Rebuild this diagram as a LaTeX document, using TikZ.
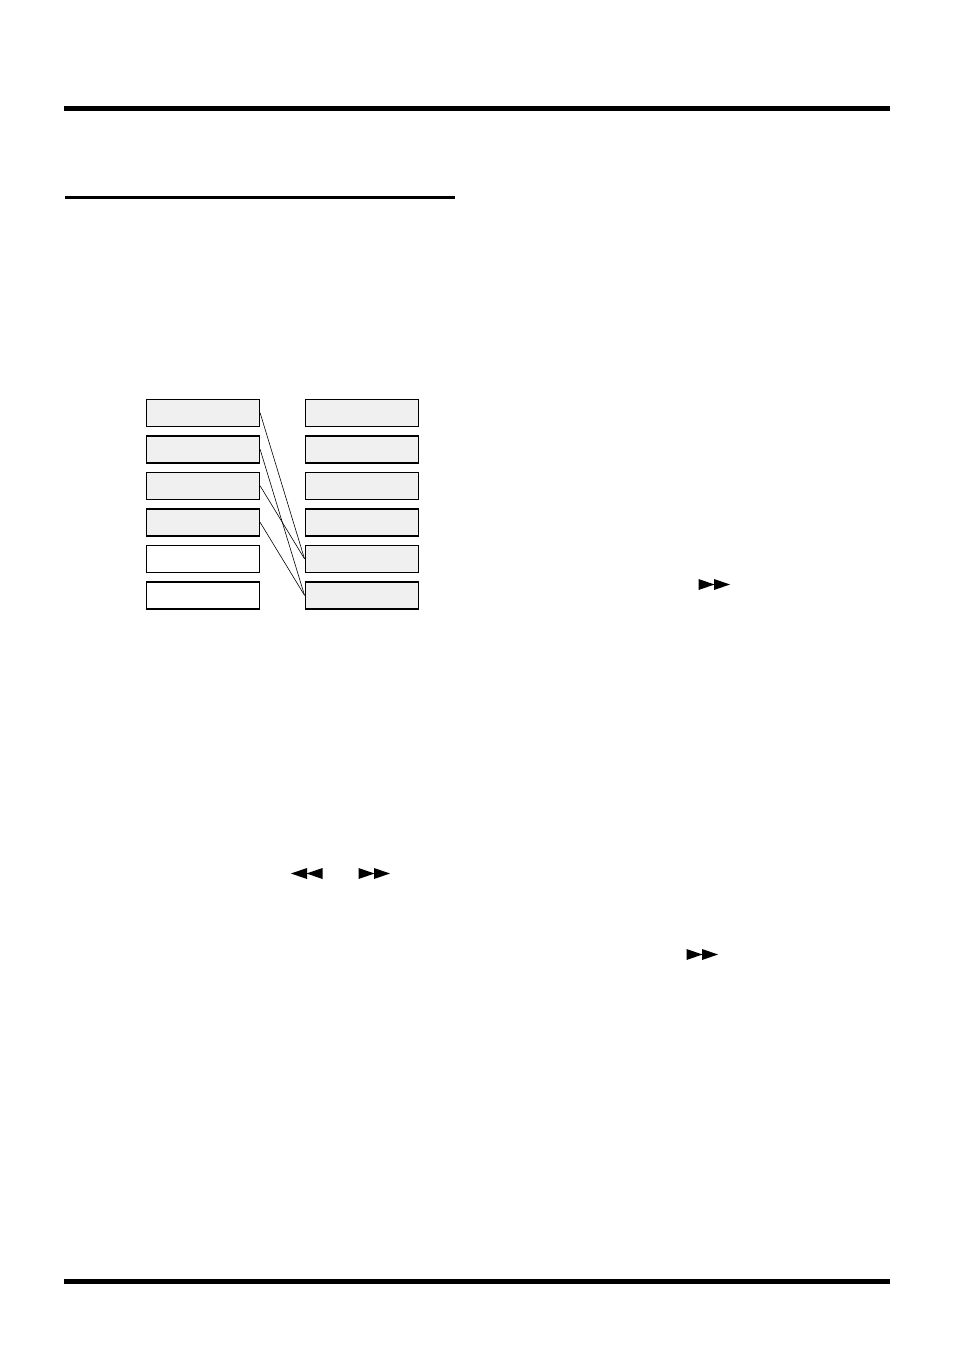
\documentclass[tikz,border=0pt]{standalone}
\begin{document}
\begin{tikzpicture}[x=1pt,y=-1pt,
  cell/.style={draw=black,line width=1.6pt,minimum width=113pt,minimum height=27pt,inner sep=0pt,anchor=north west},
  shaded/.style={cell,fill=black!6},
  plain/.style={cell,fill=white},
  link/.style={draw=black,line width=0.6pt},
  bar/.style={fill=black},
  tri/.style={fill=black}]
\useasboundingbox[fill=white] (0,0) rectangle (954,1351);
% rules
\fill[bar] (64,106) rectangle (890,111.5);
\fill[bar] (65,196) rectangle (455,199.5);
\fill[bar] (64,1278.5) rectangle (890,1283.5);
% left column
\node[shaded] (l1) at (145.5,398.5) {};
\node[shaded] (l2) at (145.5,435) {};
\node[shaded] (l3) at (145.5,471.5) {};
\node[shaded] (l4) at (145.5,508) {};
\node[plain]  (l5) at (145.5,544.5) {};
\node[plain]  (l6) at (145.5,581) {};
% right column
\node[shaded] (r1) at (304.5,398.5) {};
\node[shaded] (r2) at (304.5,435) {};
\node[shaded] (r3) at (304.5,471.5) {};
\node[shaded] (r4) at (304.5,508) {};
\node[shaded] (r5) at (304.5,544.5) {};
\node[shaded] (r6) at (304.5,581) {};
% connectors
\draw[link] (l1.east) -- (r5.west);
\draw[link] (l2.east) -- (r6.west);
\draw[link] (l3.east) -- (r5.west);
\draw[link] (l4.east) -- (r6.west);
% rewind / forward symbols
\fill[tri] (291,873.5) -- (307,868) -- (307,879) -- cycle;
\fill[tri] (306.5,873.5) -- (322.5,868) -- (322.5,879) -- cycle;
\fill[tri] (358.5,868) -- (374.5,873.5) -- (358.5,879) -- cycle;
\fill[tri] (374,868) -- (390,873.5) -- (374,879) -- cycle;
\fill[tri] (698.5,579) -- (714.5,584.5) -- (698.5,590) -- cycle;
\fill[tri] (714,579) -- (730,584.5) -- (714,590) -- cycle;
\fill[tri] (686.5,949) -- (702.5,954.5) -- (686.5,960) -- cycle;
\fill[tri] (702,949) -- (718,954.5) -- (702,960) -- cycle;
\end{tikzpicture}
\end{document}
